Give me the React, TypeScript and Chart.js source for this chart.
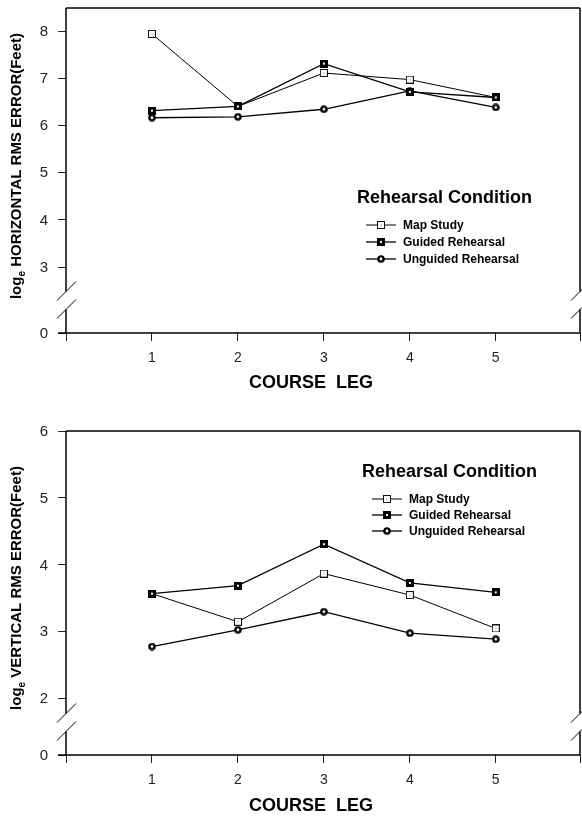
import React, { useEffect, useRef } from 'react';
import { Chart, registerables } from 'chart.js';
Chart.register(...registerables);

const courseLegs = [1, 2, 3, 4, 5];
const seriesNames = ['Map Study', 'Guided Rehearsal', 'Unguided Rehearsal'];
const horizMap = [7.95, 6.41, 7.12, 6.98, 6.6];
const horizGuided = [6.32, 6.41, 7.32, 6.72, 6.6];
const horizUnguided = [6.17, 6.19, 6.35, 6.74, 6.39];
const vertMap = [3.57, 3.15, 3.87, 3.55, 3.05];
const vertGuided = [3.57, 3.69, 4.31, 3.73, 3.59];
const vertUnguided = [2.78, 3.03, 3.3, 2.98, 2.89];
const horizTicks = [3, 4, 5, 6, 7, 8];
const vertTicks = [2, 3, 4, 5, 6];
const xTickLabels = ['1', '2', '3', '4', '5'];
const legendTitle = 'Rehearsal Condition';
const xTitle = 'COURSE  LEG';
const X_MAX = 5.98;

const FONT = '"Liberation Sans", Arial, Helvetica, sans-serif';

function makeMarker(kind: string): HTMLCanvasElement {
  const c = document.createElement('canvas');
  c.width = 8;
  c.height = 8;
  const g = c.getContext('2d')!;
  if (kind === 'open') {
    g.fillStyle = '#fff';
    g.fillRect(0, 0, 8, 8);
    g.strokeStyle = '#111';
    g.lineWidth = 1;
    g.strokeRect(0.5, 0.5, 7, 7);
    g.fillStyle = '#555';
    g.fillRect(3.5, 3.5, 1, 1);
  } else if (kind === 'filled') {
    g.fillStyle = '#000';
    g.fillRect(0, 0, 8, 8);
    g.fillStyle = '#fff';
    g.fillRect(3, 3, 2, 2);
  } else {
    g.fillStyle = '#000';
    g.beginPath();
    g.arc(4, 4, 3.8, 0, Math.PI * 2);
    g.fill();
    g.fillStyle = '#fff';
    g.beginPath();
    g.arc(4, 4, 1.4, 0, Math.PI * 2);
    g.fill();
  }
  return c;
}

type Cfg = {
  values: number[][];
  yTicks: number[];
  yZeroPos: number;
  yMax: number;
  padTop: number;
  xHeight: number;
  yTitleMain: string;
  yTitleCenter: number;
  xTitleY: number;
  legend: { titleX: number; titleY: number; itemYs: number[]; lineX1: number; lineX2: number; textX: number };
};

function buildChart(canvas: HTMLCanvasElement, cfg: Cfg) {
  const markers = [makeMarker('open'), makeMarker('filled'), makeMarker('ring')];
  const tickVals = [cfg.yZeroPos, ...cfg.yTicks];
  const tickLabels = ['0', ...cfg.yTicks.map(String)];

  const framePlugin = {
    id: 'frame',
    beforeDatasetsDraw(chart: any) {
      const { ctx, chartArea } = chart;
      const { left, right, top, bottom } = chartArea;
      const gapTop = bottom - 41.5;
      const gapBot = bottom - 23.5;
      ctx.save();
      ctx.strokeStyle = '#000';
      ctx.lineWidth = 1.5;
      ctx.beginPath();
      ctx.moveTo(left, top);
      ctx.lineTo(right, top);
      ctx.moveTo(left, top);
      ctx.lineTo(left, gapTop);
      ctx.moveTo(left, gapBot);
      ctx.lineTo(left, bottom);
      ctx.moveTo(right, top);
      ctx.lineTo(right, gapTop);
      ctx.moveTo(right, gapBot);
      ctx.lineTo(right, bottom);
      ctx.moveTo(left - 8, bottom);
      ctx.lineTo(right, bottom);
      ctx.stroke();
      ctx.lineWidth = 1;
      ctx.beginPath();
      for (const cx of [left, right]) {
        for (const cy of [gapTop, gapBot]) {
          ctx.moveTo(cx - 9, cy + 9);
          ctx.lineTo(cx + 10, cy - 10);
        }
      }
      ctx.stroke();

      ctx.fillStyle = '#222';
      ctx.font = `15px ${FONT}`;
      ctx.textAlign = 'right';
      ctx.textBaseline = 'middle';
      const ys = chart.scales.y;
      tickVals.forEach((v, i) => {
        ctx.fillText(tickLabels[i], 48, ys.getPixelForValue(v) + 0.5);
      });
      ctx.font = `14px ${FONT}`;
      ctx.textAlign = 'center';
      const xs = chart.scales.x;
      courseLegs.forEach((c, i) => {
        ctx.fillText(xTickLabels[i], xs.getPixelForValue(c), bottom + 25);
      });
      ctx.restore();
    },
    afterDraw(chart: any) {
      const { ctx } = chart;
      ctx.save();
      ctx.fillStyle = '#000';
      ctx.translate(17, cfg.yTitleCenter);
      ctx.rotate(-Math.PI / 2);
      ctx.textBaseline = 'middle';
      ctx.textAlign = 'left';
      const mainFont = `bold 15px ${FONT}`;
      const subFont = `bold 10px ${FONT}`;
      ctx.font = mainFont;
      const wLog = ctx.measureText('log').width;
      const wRest = ctx.measureText(cfg.yTitleMain).width;
      ctx.font = subFont;
      const wE = ctx.measureText('e').width;
      const total = wLog + wE + wRest;
      let x = -total / 2;
      ctx.font = mainFont;
      ctx.fillText('log', x, 0);
      x += wLog;
      ctx.font = subFont;
      ctx.fillText('e', x, 5);
      x += wE;
      ctx.font = mainFont;
      ctx.fillText(cfg.yTitleMain, x, 0);
      ctx.restore();

      ctx.save();
      ctx.fillStyle = '#000';
      ctx.font = `bold 18px ${FONT}`;
      ctx.textAlign = 'center';
      ctx.textBaseline = 'middle';
      ctx.fillText(xTitle, 311, cfg.xTitleY);

      const L = cfg.legend;
      ctx.textAlign = 'left';
      ctx.font = `bold 18px ${FONT}`;
      ctx.fillText(legendTitle, L.titleX, L.titleY);
      ctx.font = `bold 12px ${FONT}`;
      seriesNames.forEach((name, i) => {
        const y = L.itemYs[i];
        ctx.strokeStyle = '#000';
        ctx.lineWidth = i === 0 ? 1 : 1.3;
        ctx.beginPath();
        ctx.moveTo(L.lineX1, y);
        ctx.lineTo(L.lineX2, y);
        ctx.stroke();
        const mx = (L.lineX1 + L.lineX2) / 2;
        ctx.drawImage(markers[i], Math.round(mx - 4), Math.round(y - 4));
        ctx.fillText(name, L.textX, y + 0.5);
      });
      ctx.restore();
    },
  };

  const mk = (i: number, order: number) => ({
    label: seriesNames[i],
    data: courseLegs.map((c, k) => ({ x: c, y: cfg.values[i][k] })),
    borderColor: '#000',
    borderWidth: i === 0 ? 1 : 1.3,
    pointStyle: markers[i],
    pointRadius: 4,
    tension: 0,
    fill: false,
    order,
  });

  return new Chart(canvas, {
    type: 'line',
    data: { datasets: [mk(0, 3), mk(2, 2), mk(1, 1)] },
    options: {
      animation: false,
      responsive: false,
      maintainAspectRatio: false,
      events: [],
      layout: { autoPadding: false, padding: { top: cfg.padTop, right: 2, left: 0, bottom: 0 } },
      plugins: { legend: { display: false }, tooltip: { enabled: false } },
      scales: {
        x: {
          type: 'linear',
          min: 0,
          max: X_MAX,
          afterBuildTicks: (s: any) => {
            s.ticks = [0, ...courseLegs, X_MAX].map((v) => ({ value: v }));
          },
          afterFit: (s: any) => {
            s.height = cfg.xHeight;
          },
          ticks: { display: false },
          grid: { drawOnChartArea: false, drawTicks: true, tickLength: 8, color: '#222', lineWidth: 1 },
          border: { display: false },
        },
        y: {
          type: 'linear',
          min: cfg.yZeroPos,
          max: cfg.yMax,
          afterBuildTicks: (s: any) => {
            s.ticks = tickVals.map((v) => ({ value: v }));
          },
          afterFit: (s: any) => {
            s.width = 66;
          },
          ticks: { display: false },
          grid: { drawOnChartArea: false, drawTicks: true, tickLength: 8, color: '#222', lineWidth: 1 },
          border: { display: false },
        },
      },
    },
    plugins: [framePlugin],
  } as any);
}

export default function App() {
  const topRef = useRef<HTMLCanvasElement>(null);
  const botRef = useRef<HTMLCanvasElement>(null);

  useEffect(() => {
    document.body.style.margin = '0';
    const top = buildChart(topRef.current!, {
      values: [horizMap, horizGuided, horizUnguided],
      yTicks: horizTicks,
      yZeroPos: 1.6,
      yMax: 8.5,
      padTop: 8,
      xHeight: 78,
      yTitleMain: ' HORIZONTAL RMS ERROR(Feet)',
      yTitleCenter: 166,
      xTitleY: 383,
      legend: { titleX: 357, titleY: 198, itemYs: [225, 242, 259], lineX1: 366, lineX2: 396, textX: 403 },
    });
    const bot = buildChart(botRef.current!, {
      values: [vertMap, vertGuided, vertUnguided],
      yTicks: vertTicks,
      yZeroPos: 1.16,
      yMax: 6,
      padTop: 20,
      xHeight: 67,
      yTitleMain: ' VERTICAL RMS ERROR(Feet)',
      yTitleCenter: 177,
      xTitleY: 395,
      legend: { titleX: 362, titleY: 61, itemYs: [88, 104, 120], lineX1: 372, lineX2: 402, textX: 409 },
    });
    return () => {
      top.destroy();
      bot.destroy();
    };
  }, []);

  return (
    <div style={{ width: 582, height: 822, background: '#fff' }}>
      <canvas ref={topRef} width={582} height={411} style={{ display: 'block' }} />
      <canvas ref={botRef} width={582} height={411} style={{ display: 'block' }} />
    </div>
  );
}
